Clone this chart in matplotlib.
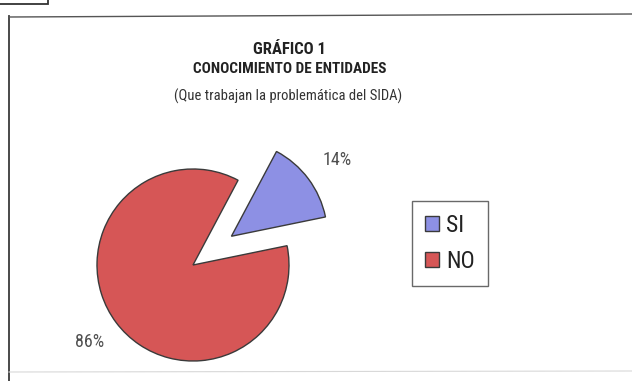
import matplotlib
matplotlib.use("Agg")
import matplotlib.pyplot as plt
from matplotlib import font_manager
from matplotlib.patches import Rectangle
from matplotlib.lines import Line2D

categories = ["SI", "NO"]
values = [14, 86]
colors = ["#8d90e4", "#d65656"]
title_lines = ["GRÁFICO 1", "CONOCIMIENTO DE ENTIDADES", "(Que trabajan la problemática del SIDA)"]


def pick_font() -> str:
    available = {f.name for f in font_manager.fontManager.ttflist}
    for name in ["Liberation Sans Narrow", "Roboto Condensed", "Open Sans Condensed", "Liberation Sans"]:
        if name in available:
            return name
    return "DejaVu Sans"


FONT = pick_font()
plt.rcParams["font.family"] = [FONT, "DejaVu Sans"]

W, H = 632, 381
fig = plt.figure(figsize=(W / 100, H / 100), dpi=100)
fig.patch.set_facecolor("white")


def fx(px):
    return px / W


def fy(py):
    return 1 - py / H


# page frame around the chart
fig.add_artist(Line2D([fx(9), fx(9)], [fy(16), fy(381)], color="#3a3a3a", lw=1.3))
fig.add_artist(Line2D([fx(9), fx(632)], [fy(17), fy(14)], color="#555555", lw=1.0))
fig.add_artist(Line2D([fx(9), fx(632)], [fy(372), fy(371)], color="#d8d8d8", lw=0.8))
fig.add_artist(Rectangle((fx(-5), fy(4)), fx(53), fy(-10) - fy(4),
                         facecolor="white", edgecolor="#333333", lw=1.3))

# titles
fig.text(fx(289), fy(49), title_lines[0], ha="center", va="center",
         fontsize=12, weight="bold", color="#222222")
fig.text(fx(290), fy(69), title_lines[1], ha="center", va="center",
         fontsize=11, weight="bold", color="#222222")
fig.text(fx(288), fy(96), title_lines[2], ha="center", va="center",
         fontsize=10.5, color="#333333")

# pie: radius 1 mapped to ~96 px, centred at (193, 265)
R = 96
cx, cy = 193, 265
ax = fig.add_axes([fx(cx - 2 * R), fy(cy + 2 * R), 4 * R / W, 4 * R / H])
ax.axis("off")
wedges, _, autotexts = ax.pie(
    values,
    colors=colors,
    explode=[0.5, 0],
    startangle=62,
    counterclock=False,
    autopct="%1.0f%%",
    wedgeprops=dict(edgecolor="#3a3a3a", linewidth=1.0),
    textprops=dict(fontsize=13, color="#505050"),
)
ax.set_xlim(-2, 2)
ax.set_ylim(-2, 2)

label_pos = [(1.50, 1.09), (-1.08, -0.80)]
for t, (x, y) in zip(autotexts, label_pos):
    t.set_position((x, y))
    t.set_ha("center")
    t.set_va("center")

leg = fig.legend(
    wedges,
    categories,
    loc="upper left",
    bbox_to_anchor=(fx(412), fy(201)),
    frameon=True,
    fancybox=False,
    edgecolor="#444444",
    fontsize=17,
    handlelength=0.6,
    handleheight=0.6,
    handletextpad=0.3,
    labelspacing=0.55,
    borderpad=0.55,
    borderaxespad=0,
)
leg.get_frame().set_linewidth(1.0)
for txt in leg.get_texts():
    txt.set_color("#222222")

fig.savefig("out.png", dpi=100, facecolor="white")
